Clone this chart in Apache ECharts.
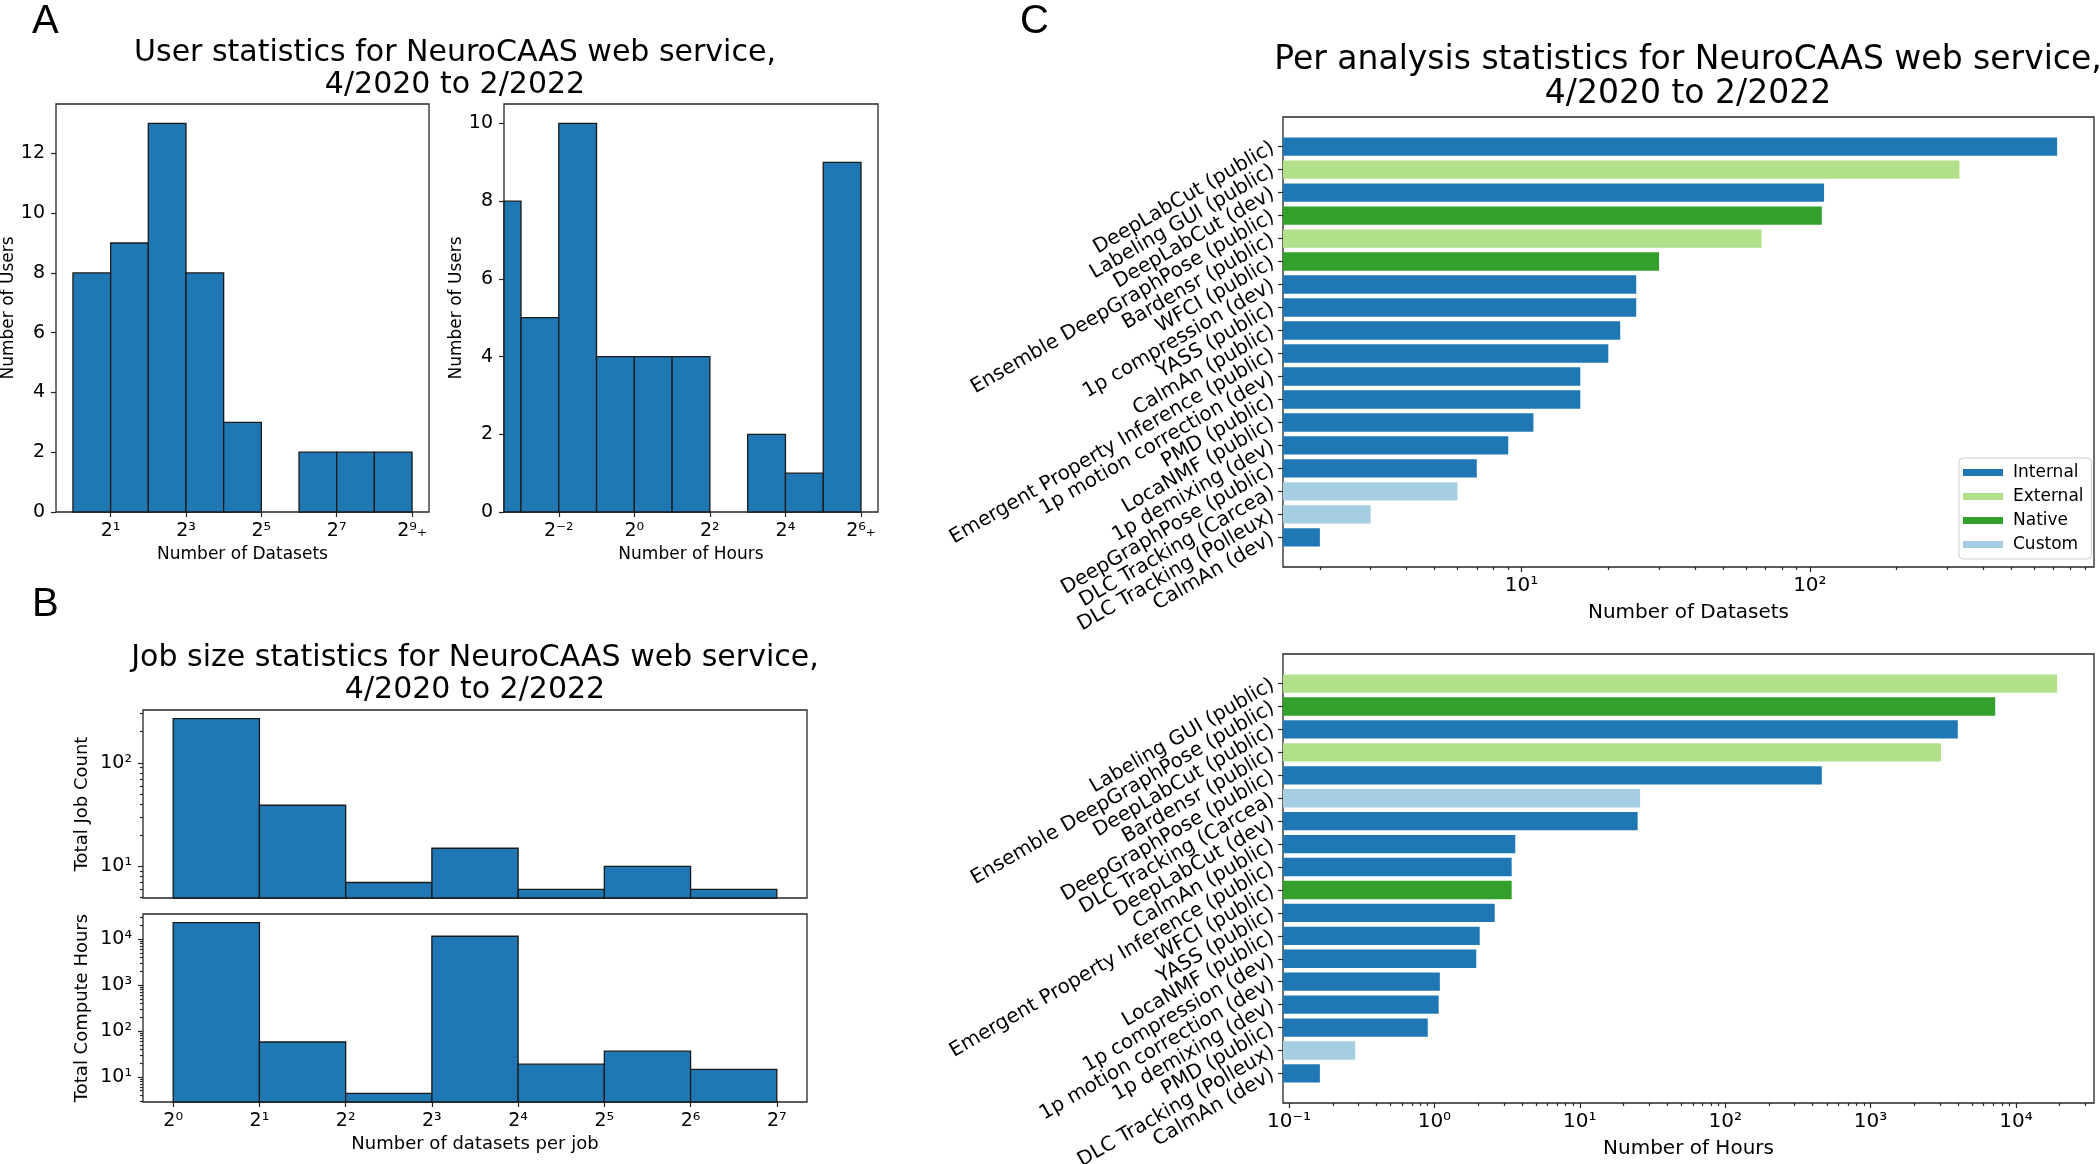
<!DOCTYPE html>
<html><head><meta charset="utf-8">
<script src="https://cdn.jsdelivr.net/npm/echarts@6/dist/echarts.min.js"></script>
<style>html,body{margin:0;padding:0;background:#fff}#c{width:2100px;height:1164px}</style>
</head><body><div id="c"></div>
<script>
// ---------- Panel A: user statistics (bin edges are log2 exponents) ----------
const datasetBinEdges = [0, 1, 2, 3, 4, 5, 6, 7, 8, 9];
const datasetUserCounts = [8, 9, 13, 8, 3, 0, 2, 2, 2];
const datasetTickExps = [1, 3, 5, 7, 9];
const hourBinEdges = [-4, -3, -2, -1, 0, 1, 2, 3, 4, 5, 6];
const hourUserCounts = [8, 5, 10, 4, 4, 4, 0, 2, 1, 9];
const hourTickExps = [-2, 0, 2, 4, 6];
const userTicksLeft = [0, 2, 4, 6, 8, 10, 12];
const userTicksRight = [0, 2, 4, 6, 8, 10];

// ---------- Panel B: job size statistics ----------
const jobBinEdges = [0, 1, 2, 3, 4, 5, 6, 7];
const jobCounts = [268, 39, 7, 15, 6, 10, 6];
const jobComputeHours = [23100, 57.5, 4.35, 11600, 18.9, 36.3, 14.5];
const jobTickExps = [0, 1, 2, 3, 4, 5, 6, 7];
const jobCountTicks = [10, 100];
const computeHourTicks = [10, 100, 1000, 10000];

// ---------- Panel C: per analysis statistics ----------
const groupNames = ['Internal', 'External', 'Native', 'Custom'];
const datasetAnalyses = ['DeepLabCut (public)', 'Labeling GUI (public)', 'DeepLabCut (dev)',
  'Ensemble DeepGraphPose (public)', 'Bardensr (public)', 'WFCI (public)', '1p compression (dev)',
  'YASS (public)', 'CalmAn (public)', 'Emergent Property Inference (public)',
  '1p motion correction (dev)', 'PMD (public)', 'LocaNMF (public)', '1p demixing (dev)',
  'DeepGraphPose (public)', 'DLC Tracking (Carcea)', 'DLC Tracking (Polleux)', 'CalmAn (dev)'];
const datasetAnalysisGroups = ['Internal', 'External', 'Internal', 'Native', 'External', 'Native',
  'Internal', 'Internal', 'Internal', 'Internal', 'Internal', 'Internal', 'Internal', 'Internal',
  'Internal', 'Custom', 'Custom', 'Internal'];
const datasetAnalysisCounts = [720, 330, 112, 110, 68, 30, 25, 25, 22, 20, 16, 16, 11, 9, 7, 6, 3, 2];
const datasetAnalysisTicks = [10, 100];

const hourAnalyses = ['Labeling GUI (public)', 'Ensemble DeepGraphPose (public)', 'DeepLabCut (public)',
  'Bardensr (public)', 'DeepGraphPose (public)', 'DLC Tracking (Carcea)', 'DeepLabCut (dev)',
  'CalmAn (public)', 'Emergent Property Inference (public)', 'WFCI (public)', 'YASS (public)',
  'LocaNMF (public)', '1p compression (dev)', '1p motion correction (dev)', '1p demixing (dev)',
  'PMD (public)', 'DLC Tracking (Polleux)', 'CalmAn (dev)'];
const hourAnalysisGroups = ['External', 'Native', 'Internal', 'External', 'Internal', 'Custom',
  'Internal', 'Internal', 'Internal', 'Native', 'Internal', 'Internal', 'Internal', 'Internal',
  'Internal', 'Internal', 'Custom', 'Internal'];
const hourAnalysisHours = [19200, 7200, 3980, 3050, 462, 26, 25, 3.6, 3.4, 3.4, 2.6, 2.05, 1.94,
  1.09, 1.07, 0.90, 0.285, 0.163];
const hourAnalysisTicks = [0.1, 1, 10, 100, 1000, 10000];

// ---------- styling ----------
const FONT = 'DejaVu Sans';
const INK = '#000';
const SPINE = '#262626';
const HIST_FILL = '#1f77b4';
const GROUP_COLORS = { Internal: '#1f78b4', External: '#b2df8a', Native: '#33a02c', Custom: '#a6cee3' };

const SUP = { '0': '⁰', '1': '¹', '2': '²', '3': '³', '4': '⁴', '5': '⁵', '6': '⁶', '7': '⁷', '8': '⁸', '9': '⁹', '-': '⁻' };
const sup = n => String(n).split('').map(c => SUP[c]).join('');
const pow2Label = lastExp => v => { const e = Math.round(v); return '2' + sup(e) + (e === lastExp ? '₊' : ''); };
const pow10Label = v => '10' + sup(Math.round(Math.log10(v)));

function logLimits(vals) { // matplotlib-like 5% margins in log space
  const lo = Math.log10(Math.min(...vals)), hi = Math.log10(Math.max(...vals));
  const m = 0.05 * (hi - lo);
  return [Math.pow(10, lo - m), Math.pow(10, hi + m)];
}
function minorLogTicks(lim) {
  const out = [];
  for (let e = Math.floor(Math.log10(lim[0])); e <= Math.ceil(Math.log10(lim[1])); e++) {
    for (let k = 2; k <= 9; k++) { const v = k * Math.pow(10, e); if (v >= lim[0] && v <= lim[1]) out.push(v); }
  }
  return out;
}
function histData(edges, counts) { return counts.map((c, i) => [edges[i], edges[i + 1], c]); }

function histItem(params, api) {
  const v = api.value(2);
  if (!(v > 0)) return null;
  const cs = params.coordSys;
  const pL = api.coord([api.value(0), v]);
  const pR = api.coord([api.value(1), v]);
  const left = Math.max(pL[0], cs.x);
  const bottom = cs.y + cs.height;
  return { type: 'rect', shape: { x: left, y: pL[1], width: pR[0] - left, height: bottom - pL[1] },
    style: { fill: HIST_FILL, stroke: '#1a1a1a', lineWidth: 1.3 } };
}
function hbarItem(params, api) {
  const v = api.value(0), i = api.value(1);
  const cs = params.coordSys;
  const a = api.coord([v, i - 0.4]), b = api.coord([v, i + 0.4]);
  return { type: 'rect', shape: { x: cs.x, y: Math.min(a[1], b[1]), width: a[0] - cs.x, height: Math.abs(b[1] - a[1]) },
    style: { fill: api.visual('color') } };
}

function tickStyle(len) { return { lineStyle: { color: SPINE, width: 1.2 }, length: len, inside: false }; }
function valueAxis(o) {
  const ax = {
    type: o.type || 'value', gridIndex: o.grid, min: o.min, max: o.max, inverse: !!o.inverse,
    position: o.position,
    axisLine: { show: false, onZero: false },
    splitLine: { show: false },
    axisTick: Object.assign({ show: !!o.ticks, customValues: o.ticks || [] }, tickStyle(o.tickLen || 5)),
    axisLabel: { show: !!o.labels, customValues: o.labels || [], formatter: o.formatter, margin: o.margin || 10,
      fontSize: o.fontSize || 19, fontFamily: FONT, color: INK, rotate: o.rotate || 0,
      showMinLabel: true, showMaxLabel: true, hideOverlap: false }
  };
  if (o.name) {
    Object.assign(ax, { name: o.name, nameLocation: 'middle', nameGap: o.nameGap,
      nameTextStyle: { fontSize: o.nameSize || 17, fontFamily: FONT, color: INK } });
  }
  return ax;
}

const jobCountLim = logLimits(jobCounts);
const computeLim = logLimits(jobComputeHours);
const datasetLim = logLimits(datasetAnalysisCounts);
const hourLim = logLimits(hourAnalysisHours);
const catIdx = datasetAnalyses.map((_, i) => i);

const grids = [
  { left: 56, top: 104, width: 373, height: 408 },    // A left
  { left: 504, top: 104, width: 374, height: 408 },   // A right
  { left: 143, top: 710, width: 664, height: 188 },   // B top
  { left: 143, top: 914, width: 664, height: 188 },   // B bottom
  { left: 1283, top: 117, width: 811, height: 450 },  // C top
  { left: 1283, top: 654, width: 811, height: 449 }   // C bottom
].map(g => Object.assign(g, { show: true, borderColor: SPINE, borderWidth: 1.3, backgroundColor: 'transparent',
  containLabel: false, outerBoundsMode: 'none' }));

const xAxes = [
  valueAxis({ grid: 0, min: -0.45, max: 9.45, ticks: datasetTickExps, labels: datasetTickExps,
    formatter: pow2Label(9), name: 'Number of Datasets', nameGap: 34 }),
  valueAxis({ grid: 1, min: -3.45, max: 6.45, ticks: hourTickExps, labels: hourTickExps,
    formatter: pow2Label(6), name: 'Number of Hours', nameGap: 34 }),
  valueAxis({ grid: 2, min: -0.35, max: 7.35, position: 'bottom' }),
  valueAxis({ grid: 3, min: -0.35, max: 7.35, ticks: jobTickExps, labels: jobTickExps,
    formatter: pow2Label(null), name: 'Number of datasets per job', nameGap: 33, nameSize: 18 }),
  valueAxis({ type: 'log', grid: 4, position: 'bottom', min: datasetLim[0], max: datasetLim[1], ticks: datasetAnalysisTicks,
    labels: datasetAnalysisTicks, formatter: pow10Label, fontSize: 20, margin: 9,
    name: 'Number of Datasets', nameGap: 36, nameSize: 20 }),
  valueAxis({ type: 'log', grid: 4, position: 'bottom', min: datasetLim[0], max: datasetLim[1],
    ticks: minorLogTicks(datasetLim), tickLen: 3 }),
  valueAxis({ type: 'log', grid: 5, position: 'bottom', min: hourLim[0], max: hourLim[1], ticks: hourAnalysisTicks,
    labels: hourAnalysisTicks, formatter: pow10Label, fontSize: 20, margin: 9,
    name: 'Number of Hours', nameGap: 36, nameSize: 20 }),
  valueAxis({ type: 'log', grid: 5, position: 'bottom', min: hourLim[0], max: hourLim[1],
    ticks: minorLogTicks(hourLim), tickLen: 3 })
];
const yAxes = [
  valueAxis({ grid: 0, min: 0, max: 13 * 1.05, ticks: userTicksLeft, labels: userTicksLeft, margin: 11,
    name: 'Number of Users', nameGap: 38 }),
  valueAxis({ grid: 1, min: 0, max: 10 * 1.05, ticks: userTicksRight, labels: userTicksRight, margin: 11,
    name: 'Number of Users', nameGap: 38 }),
  valueAxis({ type: 'log', grid: 2, position: 'left', min: jobCountLim[0], max: jobCountLim[1], ticks: jobCountTicks,
    labels: jobCountTicks, formatter: pow10Label, margin: 11, name: 'Total Job Count', nameGap: 52, nameSize: 18 }),
  valueAxis({ type: 'log', grid: 2, position: 'left', min: jobCountLim[0], max: jobCountLim[1],
    ticks: minorLogTicks(jobCountLim), tickLen: 3 }),
  valueAxis({ type: 'log', grid: 3, position: 'left', min: computeLim[0], max: computeLim[1], ticks: computeHourTicks,
    labels: computeHourTicks, formatter: pow10Label, margin: 11, name: 'Total Compute Hours', nameGap: 52, nameSize: 18 }),
  valueAxis({ type: 'log', grid: 3, position: 'left', min: computeLim[0], max: computeLim[1],
    ticks: minorLogTicks(computeLim), tickLen: 3 }),
  valueAxis({ grid: 4, position: 'left', min: -1.29, max: 18.29, inverse: true, ticks: catIdx, labels: catIdx,
    formatter: v => datasetAnalyses[Math.round(v)], rotate: 30, fontSize: 20, margin: 10 }),
  valueAxis({ grid: 5, position: 'left', min: -1.29, max: 18.29, inverse: true, ticks: catIdx, labels: catIdx,
    formatter: v => hourAnalyses[Math.round(v)], rotate: 30, fontSize: 20, margin: 10 })
];

const series = [
  { type: 'custom', xAxisIndex: 0, yAxisIndex: 0, renderItem: histItem, encode: { x: [0, 1], y: 2 },
    data: histData(datasetBinEdges, datasetUserCounts) },
  { type: 'custom', xAxisIndex: 1, yAxisIndex: 1, renderItem: histItem, encode: { x: [0, 1], y: 2 },
    data: histData(hourBinEdges, hourUserCounts) },
  { type: 'custom', xAxisIndex: 2, yAxisIndex: 2, renderItem: histItem, encode: { x: [0, 1], y: 2 },
    data: histData(jobBinEdges, jobCounts) },
  { type: 'custom', xAxisIndex: 3, yAxisIndex: 4, renderItem: histItem, encode: { x: [0, 1], y: 2 },
    data: histData(jobBinEdges, jobComputeHours) }
];
function groupSeries(values, groups, xi, yi) {
  groupNames.forEach(g => {
    series.push({ type: 'custom', name: g, xAxisIndex: xi, yAxisIndex: yi, renderItem: hbarItem,
      encode: { x: 0, y: 1 }, itemStyle: { color: GROUP_COLORS[g] },
      data: values.map((v, i) => groups[i] === g ? [v, i] : null).filter(d => d) });
  });
}
groupSeries(datasetAnalysisCounts, datasetAnalysisGroups, 4, 6);
groupSeries(hourAnalysisHours, hourAnalysisGroups, 6, 7);

function txt(x, y, text, size, extra) {
  return { type: 'text', x: x, y: y, silent: true,
    style: Object.assign({ text: text, fontSize: size, fontFamily: FONT, fill: INK, align: 'center', verticalAlign: 'top' }, extra || {}) };
}
const graphics = [
  txt(32, 22, 'A', 40, { fontFamily: 'Liberation Sans', align: 'left', verticalAlign: 'middle' }),
  txt(32, 605, 'B', 40, { fontFamily: 'Liberation Sans', align: 'left', verticalAlign: 'middle' }),
  txt(1020, 22, 'C', 40, { fontFamily: 'Liberation Sans', align: 'left', verticalAlign: 'middle' }),
  txt(455, 37, 'User statistics for NeuroCAAS web service,\n4/2020 to 2/2022', 30, { lineHeight: 32 }),
  txt(475, 642, 'Job size statistics for NeuroCAAS web service,\n4/2020 to 2/2022', 30, { lineHeight: 32 }),
  txt(1688, 43, 'Per analysis statistics for NeuroCAAS web service,\n4/2020 to 2/2022', 33, { lineHeight: 34 })
];

const chart = echarts.init(document.getElementById('c'), null, { renderer: 'canvas', width: 2100, height: 1164 });
chart.setOption({
  animation: false,
  backgroundColor: '#fff',
  textStyle: { fontFamily: FONT },
  grid: grids, xAxis: xAxes, yAxis: yAxes, series: series, graphic: graphics,
  legend: {
    data: groupNames.map(n => ({ name: n, icon: 'rect' })), selectedMode: false,
    orient: 'vertical', left: 1959, top: 458, itemWidth: 40, itemHeight: 7, itemGap: 7,
    padding: [6, 8, 6, 4], backgroundColor: 'rgba(255,255,255,0.8)', borderColor: '#cccccc',
    borderWidth: 1, borderRadius: 4,
    textStyle: { fontSize: 17, fontFamily: FONT, color: INK, lineHeight: 17, padding: [0, 0, 0, 5] }
  }
});
</script></body></html>
